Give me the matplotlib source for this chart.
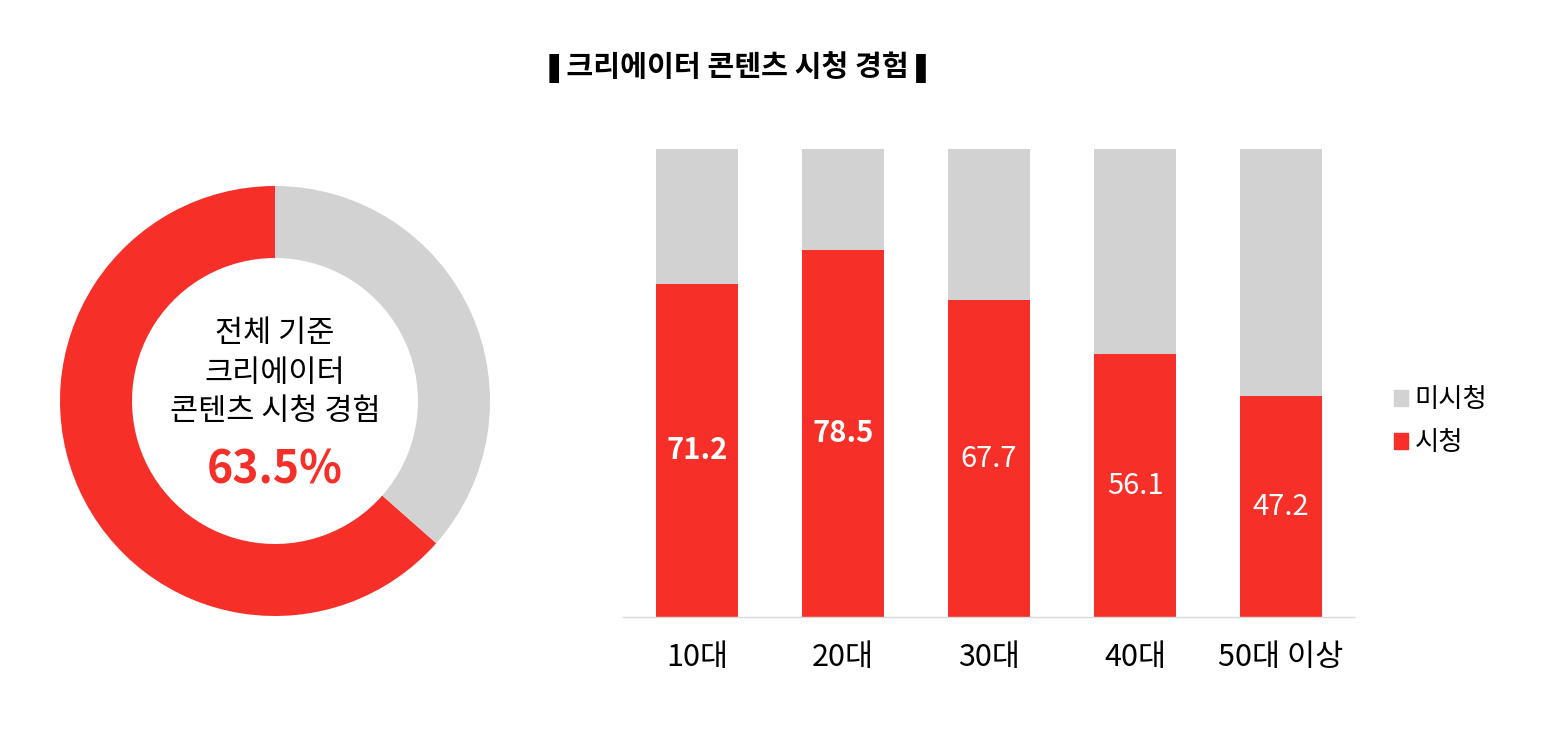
import matplotlib
matplotlib.use('Agg')
import matplotlib.pyplot as plt
from matplotlib.patches import Patch

plt.rcParams['font.family'] = ['Noto Sans CJK KR', 'DejaVu Sans']

# 전체 기준 도넛
total_labels = ['시청', '미시청']
total_values = [63.5, 36.5]

# 연령대별 시청 경험
ages = ['10대', '20대', '30대', '40대', '50대 이상']
watched = [71.2, 78.5, 67.7, 56.1, 47.2]
not_watched = [100 - v for v in watched]
label_weights = ['bold', 'bold', 'normal', 'normal', 'normal']

RED = '#F63028'
GRAY = '#D2D2D2'

fig = plt.figure(figsize=(15.62, 7.31), dpi=100)

fig.text(0.4725, 0.908, '❚크리에이터 콘텐츠 시청 경험❚', ha='center', va='center',
         fontsize=21, fontweight='black')

# 도넛
ax1 = fig.add_axes([60/1562, 1-616/731, 430/1562, 430/731])
ax1.pie(total_values, colors=[RED, GRAY], startangle=90, counterclock=True,
        radius=1, wedgeprops=dict(width=0.335, linewidth=0))
ax1.set_xlim(-1, 1)
ax1.set_ylim(-1, 1)
ax1.set_aspect('equal')
ax1.text(0, 0.316, '전체 기준', ha='center', va='center', fontsize=22)
ax1.text(0, 0.130, '크리에이터', ha='center', va='center', fontsize=22)
ax1.text(0, -0.051, '콘텐츠 시청 경험', ha='center', va='center', fontsize=22)
ax1.text(0, -0.321, f'{total_values[0]}%', ha='center', va='center',
         fontsize=32, fontweight='bold', color=RED)

# 막대
ax2 = fig.add_axes([623/1562, 1-617/731, 731/1562, 468/731])
x = range(len(ages))
ax2.bar(x, watched, width=0.56, color=RED)
ax2.bar(x, not_watched, width=0.56, bottom=watched, color=GRAY)
for i, v in enumerate(watched):
    ax2.text(i, v/2, f'{v}', ha='center', va='center', color='white',
             fontsize=21, fontweight=label_weights[i])
ax2.set_xlim(-0.507, 4.5)
ax2.set_ylim(0, 100)
ax2.set_xticks(list(x))
ax2.set_xticklabels(ages, fontsize=22)
ax2.tick_params(axis='x', length=0, pad=18)
ax2.set_yticks([])
for s in ['top', 'right', 'left']:
    ax2.spines[s].set_visible(False)
ax2.spines['bottom'].set_color('#DADADA')
ax2.spines['bottom'].set_linewidth(1)

handles = [Patch(color=GRAY, label='미시청'), Patch(color=RED, label='시청')]
fig.legend(handles=handles, loc='center left', bbox_to_anchor=(1370/1562, 1-421/731),
           frameon=False, fontsize=19, handlelength=0.55, handleheight=0.55,
           handletextpad=0.25, labelspacing=0.6)

fig.savefig('out.png', dpi=100)
